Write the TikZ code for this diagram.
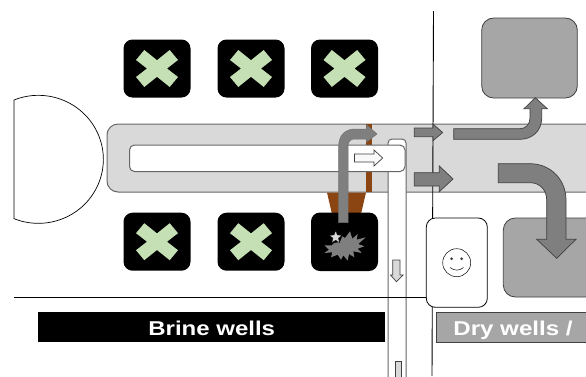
\documentclass[tikz,border=0pt]{standalone}
\usepackage{fontspec}
\setmainfont{Liberation Sans}
\definecolor{barfill}{HTML}{D9D9D9}
\definecolor{barline}{HTML}{666666}
\definecolor{boxfill}{HTML}{A6A6A6}
\definecolor{arrowfill}{HTML}{7F7F7F}
\definecolor{arrowline}{HTML}{404040}
\definecolor{xgreen}{HTML}{C5E0B4}
\definecolor{brownfill}{HTML}{8B4513}
\tikzset{
  blockarrow/.style={fill=arrowfill,draw=arrowline,line width=0.7pt,line join=miter},
  lightarrow/.style={fill=barfill,draw=arrowline,line width=0.7pt},
  whitebox/.style={fill=white,draw=barline,line width=1pt},
  wellbox/.style={fill=black,rounded corners=9pt},
  graybox/.style={fill=boxfill,draw=arrowline,line width=0.8pt,rounded corners=12pt},
  labeltext/.style={text=white,font=\bfseries\fontsize{20}{20}\selectfont,inner sep=0pt,anchor=base},
  rule/.style={draw=black,line width=0.9pt}
}
\newcommand{\wellcross}[2]{%
  \fill[wellbox] (#1-33.5,#2-29) rectangle (#1+33.5,#2+29);
  \fill[xgreen] (#1-12.7,#2-18.5) -- (#1,#2-8.3) -- (#1+12.7,#2-18.5) -- (#1+21,#2-8.5) -- (#1+10,#2) -- (#1+21,#2+8.5) -- (#1+12.7,#2+18.5) -- (#1,#2+8.3) -- (#1-12.7,#2+18.5) -- (#1-21,#2+8.5) -- (#1-10,#2) -- (#1-21,#2-8.5) -- cycle;
}
\begin{document}
\begin{tikzpicture}[x=1pt,y=-1pt]
\clip (0,0) rectangle (586,376);
\fill[white] (0,0) rectangle (586,376);
% D shape
\draw[black,line width=0.7pt] (14,100) arc[start angle=-112,end angle=112,x radius=65,y radius=64] -- cycle;
% main bar
\draw[fill=barfill,draw=barline,line width=1pt,rounded corners=11pt] (107,124) rectangle (600,192);
% brown
\fill[brownfill] (366,123.5) rectangle (372,192);
\fill[brownfill] (327,192.5) -- (366,192.5) -- (361,214) -- (332,214) -- cycle;
% wells
\wellcross{157}{68.5}
\wellcross{251}{68.5}
\wellcross{344.5}{68.5}
\wellcross{157}{241.7}
\wellcross{251}{241.7}
\fill[wellbox] (311,212.5) rectangle (378,271);
% burst and star
\fill[arrowfill] (350,231.3) -- (352.3,238.7) -- (357.7,234) -- (356.7,239.7) -- (365.7,237.3) -- (358.3,244) -- (364.3,246.3) -- (357.7,248.7) -- (361.7,253) -- (353.3,251.3) -- (354.3,257.3) -- (349,254) -- (347.7,260.7) -- (343.3,255.3) -- (341,259.7) -- (337.7,254.7) -- (331,257.3) -- (332.3,252.3) -- (324.3,253) -- (329,249.7) -- (324.3,245.3) -- (331.7,245.3) -- (334.3,243) -- (340,242) -- (342.3,236.3) -- (345,238) -- cycle;
\fill[barfill,draw=black,line width=0.3pt] (335.7,230.7) -- (337.4,235) -- (342,235.3) -- (338.4,238.2) -- (339.6,242.7) -- (335.7,240.2) -- (331.8,242.7) -- (333,238.2) -- (329.4,235.3) -- (334,235) -- cycle;
% channel
\draw[whitebox,rounded corners=4pt] (388,385) -- (388,139) -- (406,139) -- (406,385);
% inner white bar
\draw[whitebox,rounded corners=5pt] (129.5,145) rectangle (405,171.5);
% rules
\draw[rule] (433.5,11) -- (432,376);
\draw[rule] (14,297.3) -- (430,297.3);
% small arrows
\draw[fill=white!85!barfill,draw=arrowline,line width=0.7pt] (354.5,154) -- (374,154) -- (374,150) -- (382.7,158) -- (374,166) -- (374,162) -- (354.5,162) -- cycle;
\draw[lightarrow] (392.7,260) -- (400,260) -- (400,275) -- (403,275) -- (396.4,281.7) -- (390.5,275) -- (392.7,275) -- cycle;
\draw[lightarrow] (395,385) -- (395,361) -- (401.3,361) -- (401.3,385);
% grey pipe arrow
\draw[arrowfill!90!black,fill=arrowfill,line width=0.5pt] (338.7,222.7) -- (338.7,146) .. controls (338.7,135.5) and (345,129) .. (355,129) -- (366.7,129) -- (366.7,125) -- (377,134) -- (366.7,142) -- (366.7,139) -- (354,139) .. controls (350.5,139) and (348,142) .. (348,146) -- (348,222.7) -- cycle;
% straight block arrows
\draw[blockarrow] (414.3,128) -- (433,128) -- (433,124) -- (442.7,132.5) -- (433,140.7) -- (433,136.7) -- (414.3,136.7) -- cycle;
\draw[blockarrow] (414.3,172.7) -- (439.3,172.7) -- (439.3,166) -- (453,179) -- (439.3,191.7) -- (439.3,186) -- (414.3,186) -- cycle;
% grey destination boxes
\draw[graybox] (481.7,18) rectangle (577.3,98);
\draw[graybox] (503.3,218) rectangle (600,297);
% curved arrows
\draw[blockarrow] (453.7,128.7) -- (520,128.7) .. controls (526,128.7) and (530,124) .. (530,118) -- (530,108.7) -- (524,108.7) -- (535.3,97.7) -- (547.3,108.7) -- (541.7,108.7) -- (541.7,118) .. controls (541.7,131) and (532,139.3) .. (520,139.3) -- (453.7,139.3) -- cycle;
\draw[blockarrow] (498.3,163.7) -- (530,163.7) .. controls (551,163.7) and (566,180) .. (566,200) -- (566,239.3) -- (576,239.3) -- (556.7,258.3) -- (536.7,239.3) -- (546.7,239.3) -- (546.7,200) .. controls (546.7,190) and (540,182.7) .. (530,182.7) -- (498.3,182.7) -- cycle;
% smiley box
\draw[fill=white,draw=black,line width=0.8pt,rounded corners=9pt] (426.3,218) rectangle (487.3,307.3);
\draw[black,line width=0.5pt] (456.7,262.7) circle (14);
\fill[arrowline] (451.7,258.7) circle (1.5) (461.7,258.7) circle (1.5);
\draw[black,line width=0.5pt] (450,267.5) .. controls (454,271) and (459.5,271) .. (463.5,267.5);
% labels
\fill[black] (38,312) rectangle (385,342);
\draw[fill=boxfill,draw=arrowline,line width=0.8pt] (436.7,312.3) rectangle (600,342.7);
\node[labeltext] (brine) at (211.7,335) {\scalebox{1.2}[1]{Brine wells}};
\node[labeltext] (dry) at (513,335.3) {\scalebox{1.206}[1]{Dry wells /}};
\end{tikzpicture}
\end{document}
